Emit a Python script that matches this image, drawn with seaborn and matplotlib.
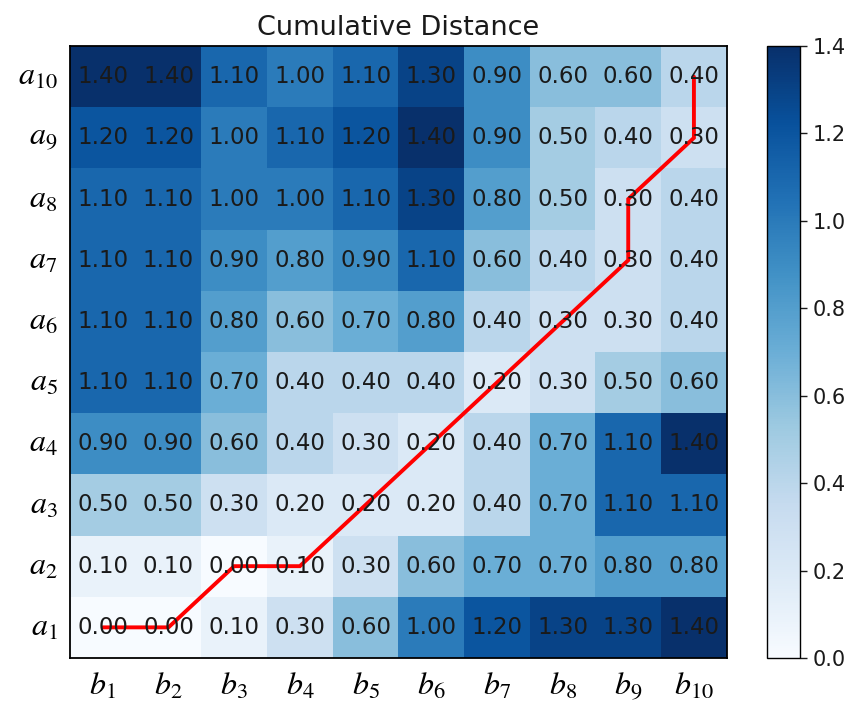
import numpy as np
import pandas as pd
import matplotlib
matplotlib.use("Agg")
import matplotlib.pyplot as plt
import seaborn as sns

sns.set_style("white")
plt.rcParams["font.family"] = ["DejaVu Sans"]
plt.rcParams["mathtext.fontset"] = "stix"
plt.rcParams["text.color"] = "black"
plt.rcParams["xtick.color"] = "black"
plt.rcParams["ytick.color"] = "black"

# Row labels a1..a10 (bottom to top), column labels b1..b10
row_labels = [f"$a_{{{i}}}$" for i in range(1, 11)]
col_labels = [f"$b_{{{j}}}$" for j in range(1, 11)]

# Cumulative distance values, one list per row a1..a10
a1 = [0.00, 0.00, 0.10, 0.30, 0.60, 1.00, 1.20, 1.30, 1.30, 1.40]
a2 = [0.10, 0.10, 0.00, 0.10, 0.30, 0.60, 0.70, 0.70, 0.80, 0.80]
a3 = [0.50, 0.50, 0.30, 0.20, 0.20, 0.20, 0.40, 0.70, 1.10, 1.10]
a4 = [0.90, 0.90, 0.60, 0.40, 0.30, 0.20, 0.40, 0.70, 1.10, 1.40]
a5 = [1.10, 1.10, 0.70, 0.40, 0.40, 0.40, 0.20, 0.30, 0.50, 0.60]
a6 = [1.10, 1.10, 0.80, 0.60, 0.70, 0.80, 0.40, 0.30, 0.30, 0.40]
a7 = [1.10, 1.10, 0.90, 0.80, 0.90, 1.10, 0.60, 0.40, 0.30, 0.40]
a8 = [1.10, 1.10, 1.00, 1.00, 1.10, 1.30, 0.80, 0.50, 0.30, 0.40]
a9 = [1.20, 1.20, 1.00, 1.10, 1.20, 1.40, 0.90, 0.50, 0.40, 0.30]
a10 = [1.40, 1.40, 1.10, 1.00, 1.10, 1.30, 0.90, 0.60, 0.60, 0.40]

# Warping path as (column index, row index) pairs
path_cols = [0, 1, 2, 3, 4, 5, 6, 7, 8, 8, 9, 9]
path_rows = [0, 0, 1, 1, 2, 3, 4, 5, 6, 7, 8, 9]

cbar_ticks = [0.0, 0.2, 0.4, 0.6, 0.8, 1.0, 1.2, 1.4]

values = pd.DataFrame([a1, a2, a3, a4, a5, a6, a7, a8, a9, a10],
                      index=row_labels, columns=col_labels)

fig = plt.figure(figsize=(8.53, 7.09), dpi=100)
ax = fig.add_axes([0.082, 0.072, 0.770, 0.863])
cax = fig.add_axes([0.899, 0.072, 0.039, 0.863])

sns.heatmap(values, ax=ax, cbar_ax=cax, cmap="Blues", vmin=0, vmax=1.4,
            annot=True, fmt=".2f",
            annot_kws={"color": "#1a1a1a", "fontsize": 16.5},
            cbar_kws={"ticks": cbar_ticks, "format": "%.1f"})
ax.invert_yaxis()

# Red warping path through cell centres
ax.plot(np.array(path_cols) + 0.5, np.array(path_rows) + 0.5,
        color="red", linewidth=2.8, solid_joinstyle="miter")

for sp in ax.spines.values():
    sp.set_visible(True)
    sp.set_linewidth(1.3)
    sp.set_color("black")

ax.tick_params(axis="both", length=0, labelsize=23, pad=9)
ax.set_yticklabels(row_labels, rotation=0)
ax.set_xticklabels(col_labels, rotation=0)
ax.set_title("Cumulative Distance", fontsize=19.5, pad=8, color="#1a1a1a")
ax.set_aspect("auto")

cax.tick_params(labelsize=15, length=5, width=1, pad=4, colors="#1a1a1a")
cb = ax.collections[0].colorbar
cb.outline.set_visible(True)
cb.outline.set_linewidth(1.0)
cb.outline.set_edgecolor("black")

fig.savefig("out.png", dpi=100)
